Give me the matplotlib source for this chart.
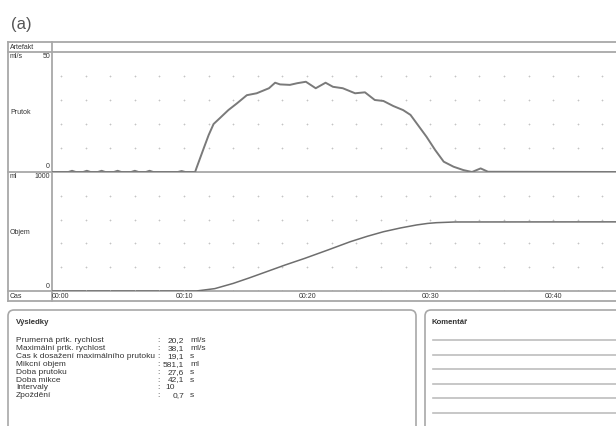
import matplotlib.pyplot as plt
from matplotlib.patches import FancyBboxPatch

plt.rcParams['font.family'] = ['Liberation Sans', 'DejaVu Sans']

# flow curve (ml/s), time in s
flow_t = [-0.7, 0.6, 0.9, 1.2, 1.8, 2.1, 2.4, 3.0, 3.3, 3.6, 4.3, 4.6, 4.9,
          5.7, 6.0, 6.3, 6.9, 7.2, 7.5, 9.5, 9.8, 10.1,
          10.9, 11.0, 11.6, 12.0, 12.4, 12.9, 13.6, 14.3, 15.1, 15.9, 16.9,
          17.4, 17.8, 18.6, 19.2, 19.9, 20.7, 21.5, 22.1, 22.9, 23.9, 24.7,
          25.5, 26.2, 27.0, 27.8, 28.4, 29.0, 29.7, 30.4, 31.1, 31.9, 32.7,
          33.4, 34.1, 34.7, 45.5]
flow = [0, 0, 0.5, 0, 0, 0.5, 0, 0, 0.5, 0, 0, 0.5, 0,
        0, 0.5, 0, 0, 0.5, 0, 0, 0.4, 0,
        0, 1.5, 9.9, 15.4, 20.0, 22.4, 25.8, 28.6, 32.0, 32.8, 34.9,
        37.2, 36.5, 36.3, 37.0, 37.6, 34.9, 37.2, 35.5, 34.9, 32.8, 33.2,
        30.0, 29.6, 27.5, 25.8, 23.8, 19.6, 14.7, 9.2, 4.3, 2.2, 0.8,
        0, 1.5, 0.1, 0]

# voided volume (ml)
vol_t = [-0.7, 11.0, 12.5, 14.0, 15.3, 16.7, 18.2, 19.8, 21.7, 23.5, 24.9,
         26.2, 27.6, 28.9, 29.8, 30.5, 32.0, 45.5]
vol = [0, 0, 20, 64, 110, 162, 218, 274, 345, 414, 460,
       498, 530, 555, 568, 574, 580, 581]

time_ticks = [0, 10, 20, 30, 40]
time_labels = ['00:00', '00:10', '00:20', '00:30', '00:40']

res_names = ['Prumerná prtk. rychlost', 'Maximální prtk. rychlost',
             'Cas k dosažení maximálního prutoku', 'Mikcní objem',
             'Doba prutoku', 'Doba mikce', 'Intervaly', 'Zpoždění']
res_values = ['20,2', '38,1', '19,1', '581,1', '27,6', '42,1', '10', '0,7']
res_units = ['ml/s', 'ml/s', 's', 'ml', 's', 's', '', 's']

W, H = 616, 426
fig = plt.figure(figsize=(W / 100, H / 100), dpi=100)


def box(x0, y0, x1, y1):
    return [x0 / W, 1 - y1 / H, (x1 - x0) / W, (y1 - y0) / H]


frame = '#a8a8a8'
txt = '#333333'
curve = '#7a7a7a'
grid = '#c4c4c4'

# background layer in pixel coordinates
bg = fig.add_axes([0, 0, 1, 1])
bg.set_xlim(0, W)
bg.set_ylim(H, 0)
bg.axis('off')

for y in [42, 52, 172, 291, 301]:
    bg.plot([8, W], [y, y], color=frame, lw=1.3)
for x in [8, 52]:
    bg.plot([x, x], [42, 301], color=frame, lw=1.3)

bg.text(11, 24, '(a)', fontsize=12, color='#555555', va='center', ha='left')

small = 5.0
bg.text(10, 47.5, 'Artefakt', fontsize=small, color=txt, va='center')
bg.text(10, 57, 'ml/s', fontsize=small, color=txt, va='center')
bg.text(50, 57, '50', fontsize=small, color=txt, va='center', ha='right')
bg.text(10, 113, 'Prutok', fontsize=small, color=txt, va='center')
bg.text(50, 167, '0', fontsize=small, color=txt, va='center', ha='right')
bg.text(10, 176, 'ml', fontsize=small, color=txt, va='center')
bg.text(50, 176, '1000', fontsize=small, color=txt, va='center', ha='right')
bg.text(10, 232, 'Objem', fontsize=small, color=txt, va='center')
bg.text(50, 287, '0', fontsize=small, color=txt, va='center', ha='right')
bg.text(10, 296.5, 'Cas', fontsize=small, color=txt, va='center')

# results and comment boxes
for x0, x1 in [(8, 416), (425, 640)]:
    bg.add_patch(FancyBboxPatch((x0, 310), x1 - x0, 140,
                                boxstyle='round,pad=0,rounding_size=6',
                                fc='white', ec=frame, lw=1.2))

bg.text(16, 322, 'Výsledky', fontsize=5.6, fontweight='bold', color=txt, va='center')
fs = 6.0
for i, name in enumerate(res_names):
    y = 341 + i * 7.8
    bg.text(16, y, name, fontsize=fs, color=txt, va='center')
    bg.text(157, y, ':', fontsize=fs, color=txt, va='center')
    if res_units[i]:
        bg.text(184, y, res_values[i], fontsize=fs, color=txt, va='center', ha='right')
        bg.text(190, y, res_units[i], fontsize=fs, color=txt, va='center')
    else:
        bg.text(165, y, res_values[i], fontsize=fs, color=txt, va='center')

bg.text(432, 322, 'Komentář', fontsize=5.6, fontweight='bold', color=txt, va='center')
for i in range(6):
    y = 340 + i * 14.5
    bg.plot([433, W], [y, y], color='#bdbdbd', lw=1.2)

xlim = (-0.73, 45.1)

# flow panel
ax1 = fig.add_axes(box(52, 52, W, 172))
ax1.set_xlim(*xlim)
ax1.set_ylim(0, 50)
ax1.plot(flow_t, flow, color=curve, lw=1.4)
ax1.axis('off')
ax1.patch.set_alpha(0)

# volume panel
ax2 = fig.add_axes(box(52, 172, W, 291))
ax2.set_xlim(*xlim)
ax2.set_ylim(0, 1000)
ax2.plot(vol_t, vol, color='#6e6e6e', lw=1.1)
ax2.axis('off')
ax2.patch.set_alpha(0)

# dotted grid
gx = list(range(0, 46, 2))
for ax, levels in [(ax1, [10, 20, 30, 40]), (ax2, [200, 400, 600, 800])]:
    for lv in levels:
        ax.scatter(gx, [lv] * len(gx), marker='+', s=3, lw=0.5, color=grid)
for t in gx:
    ax2.plot([t, t], [0, 12], color=frame, lw=0.6)

# time row
ax3 = fig.add_axes(box(52, 291, W, 301))
ax3.set_xlim(*xlim)
ax3.set_ylim(0, 1)
ax3.axis('off')
ax3.patch.set_alpha(0)
for t, lab in zip(time_ticks, time_labels):
    ax3.text(t, 0.45, lab, fontsize=small, color=txt, ha='center', va='center')

fig.savefig('out.png', dpi=100)
